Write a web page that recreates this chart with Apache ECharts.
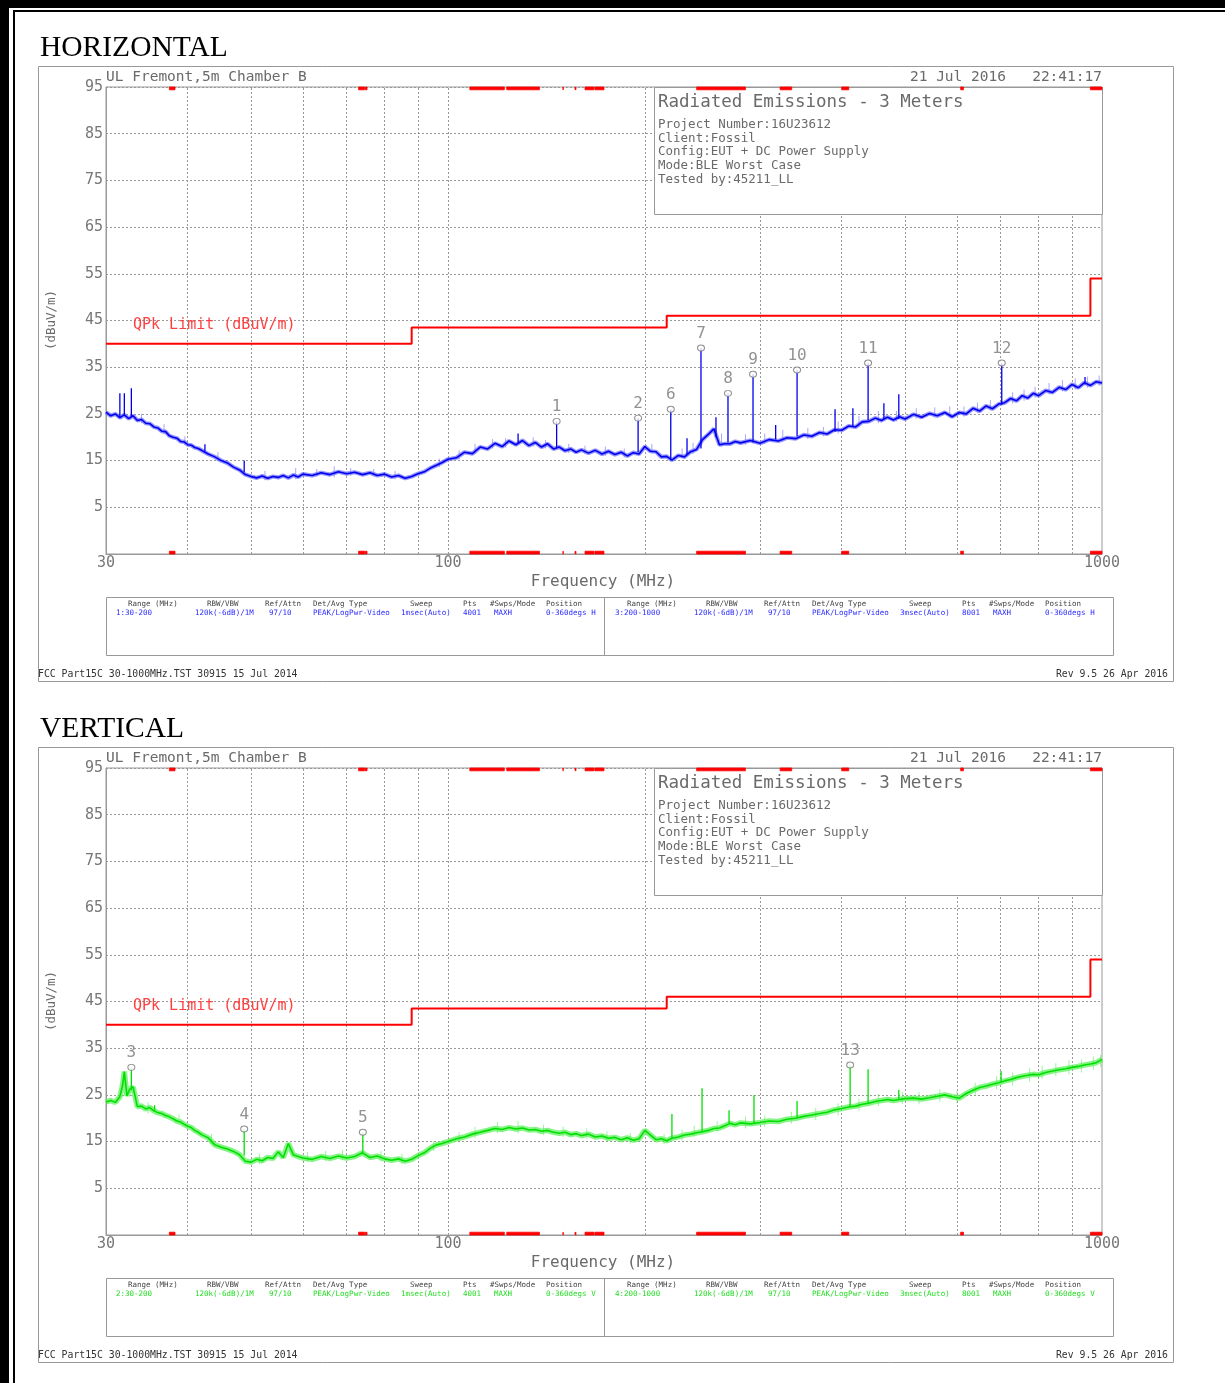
<!DOCTYPE html>
<html><head><meta charset="utf-8">
<script src="https://cdn.jsdelivr.net/npm/echarts@6/dist/echarts.min.js"></script>
<style>html,body{margin:0;padding:0;background:#fff}#c{width:1225px;height:1383px}</style>
</head><body><div id="c"></div>
<script>
// ---------- data ----------
const xLabelValues = [30, 100, 1000];
const gridFreqs = [40, 50, 60, 70, 80, 90, 100, 200, 300, 400, 500, 600, 700, 800, 900];
const qpkLimit = [[30,40],[88,40],[88,43.5],[216,43.5],[216,46],[960,46],[960,54],[1000,54]];
const restrictedBands = [[37.5,38.25],[73,74.6],[74.8,75.2],[108,121.94],[123,138],[149.9,150.05],[156.52475,156.52525],[156.7,156.9],[162.0125,167.17],[167.72,173.2],[240,285],[322,335.4],[399.9,410],[608,614],[960,1000]];

const hTrace = [[30,25.4],[30.5,24.6],[31,25.0],[31.5,24.2],[32,24.8],[32.5,24.0],[33,24.6],[33.5,23.6],[34,23.8],[34.5,23.0],[35,22.9],[35.5,22.2],[36,22.0],[36.5,21.3],[37,21.2],[37.5,20.3],[38,20.0],[38.5,19.8],[39,19.1],[39.5,19.0],[40,18.4],[40.5,18.3],[41,17.8],[41.5,17.6],[42,17.2],[43,16.4],[44,15.8],[45,15.0],[46,14.5],[47,13.6],[48,13.0],[49,12.0],[50,11.6],[51,11.3],[52,11.7],[53,11.2],[54,11.6],[55,11.4],[56,11.8],[57,11.3],[58,11.9],[59,11.5],[60,12.1],[62,11.8],[64,12.4],[66,12.0],[68,12.6],[70,12.2],[72,12.5],[74,12.0],[76,12.4],[78,11.8],[80,12.1],[82,11.5],[84,11.8],[86,11.2],[88,11.6],[90,12.2],[92,12.6],[94,13.4],[96,14.0],[98,14.6],[100,15.3],[103,15.6],[106,16.8],[109,16.5],[112,17.9],[115,17.5],[118,18.7],[121,18.0],[124,19.2],[127,18.4],[130,19.3],[133,18.2],[136,18.9],[139,17.9],[142,18.6],[145,17.5],[148,17.9],[151,17.1],[154,17.5],[157,16.8],[160,17.3],[164,16.6],[168,17.2],[172,16.4],[176,17.0],[180,16.3],[184,16.8],[188,16.0],[192,16.7],[196,16.4],[200,18.0],[204,17.0],[208,16.9],[212,15.8],[216,15.9],[220,15.1],[225,16.1],[230,15.8],[235,16.9],[240,17.4],[245,19.5],[250,20.6],[255,21.8],[260,18.4],[265,18.6],[270,18.6],[275,19.1],[280,18.8],[290,19.3],[300,18.7],[310,19.5],[320,19.2],[330,19.9],[340,19.7],[350,20.5],[360,20.2],[370,21.0],[380,20.7],[390,21.6],[400,21.5],[410,22.4],[420,22.2],[430,23.3],[440,23.4],[450,24.1],[460,23.6],[470,24.3],[480,23.7],[490,24.4],[500,23.9],[515,24.9],[530,24.3],[545,25.1],[560,24.6],[575,25.3],[590,24.4],[605,25.3],[620,25.0],[635,26.2],[650,25.6],[665,26.7],[680,26.1],[695,27.1],[710,27.4],[725,28.3],[740,27.8],[755,28.9],[770,28.4],[785,29.4],[800,28.9],[820,30.0],[840,29.6],[860,30.7],[880,30.2],[900,31.3],[920,30.6],[940,31.7],[960,31.1],[980,31.9],[1000,31.6]];
// noise extremes [freq, low, high]
const hNoise = [[34,23.0,25.0],[36.8,20.6,22.8],[39.6,18.4,20.2],[44.5,15.0,16.8],[52.5,10.8,12.8],[58.5,11.0,13.4],[63,11.6,13.2],[67,11.4,13.8],[71,11.8,13.4],[77,11.6,13.2],[83,11.0,12.8],[97,13.6,15.4],[104,15.2,17.2],[110,16.5,18.6],[117,17.6,19.6],[122.5,17.8,19.8],[135,18.0,20.0],[141,17.6,19.4],[153,16.6,18.6],[162,16.4,18.2],[174,16.0,18.0],[186,15.7,17.6],[205,16.6,18.6],[228,15.6,17.6],[237,16.4,18.8],[262,18.0,20.8],[285,18.4,20.6],[305,18.6,20.8],[325,19.0,21.6],[355,19.6,22.0],[375,20.2,22.2],[395,20.8,23.4],[425,22.2,24.6],[455,23.0,25.6],[485,23.4,25.6],[520,24.0,26.2],[555,24.2,26.4],[585,24.2,26.6],[615,24.4,26.6],[645,25.2,27.4],[675,25.8,28.0],[730,27.2,29.6],[760,27.8,30.2],[790,28.4,30.8],[830,29.2,31.6],[870,29.8,32.2],[910,30.2,32.6],[950,30.6,33.0],[990,31.0,33.2]];
// [freq, base, peak]
const hSpikes = [[31.5,24.2,29.4],[32.0,24.8,29.4],[32.8,24.4,30.5],[42.5,17.0,18.5],[48.8,12.5,15.0],[128,18.8,20.8],[146.6,17.8,23.4],[195.3,16.8,24.1],[219.1,15.4,26.0],[232,16.3,19.8],[243.7,17.6,39.1],[256.9,20.0,24.3],[268,18.9,29.4],[292.7,18.9,33.5],[317,19.5,22.6],[341.8,20.2,34.4],[390.7,21.2,26.0],[416,22.4,26.2],[438.9,23.6,35.9],[464,23.9,27.3],[489,23.9,29.2],[702.6,26.9,35.9],[942,31.3,32.9]];
const hMarkerNo = [1, 2, 6, 7, 8, 9, 10, 11, 12];
const hMarkerFreq = [146.6, 195.3, 219.1, 243.7, 268.0, 292.7, 341.8, 438.9, 702.6];
const hMarkerVal = [23.4, 24.1, 26.0, 39.1, 29.4, 33.5, 34.4, 35.9, 35.9];

const vTrace = [[30,23.5],[30.5,23.8],[31,23.4],[31.5,24.6],[31.8,27.0],[32,30.0],[32.3,24.8],[32.6,26.2],[33,26.7],[33.5,22.5],[34,22.6],[34.5,22.0],[35,22.3],[35.5,21.6],[36,21.2],[36.5,21.0],[37,20.6],[37.5,20.3],[38,19.9],[38.5,19.4],[39,19.2],[39.5,18.7],[40,18.3],[40.5,18.0],[41,17.4],[41.5,17.0],[42,16.5],[43,15.8],[44,14.3],[45,13.8],[46,13.4],[47,12.9],[48,12.2],[49,10.8],[50,10.6],[51,11.2],[52,10.9],[53,11.6],[54,11.4],[55,12.8],[56,11.6],[57,14.6],[57.5,13.4],[58,12.2],[59,11.8],[60,11.5],[62,11.2],[64,11.8],[66,11.4],[68,11.9],[70,11.5],[72,11.8],[74,12.6],[76,11.6],[78,11.9],[80,11.3],[82,11.0],[84,11.3],[86,10.8],[88,11.2],[90,12.0],[92,12.6],[94,13.6],[96,14.3],[98,14.6],[100,15.0],[103,15.6],[106,16.0],[109,16.6],[112,17.0],[115,17.4],[118,17.8],[121,17.6],[124,18.0],[127,17.7],[130,17.9],[133,17.5],[136,17.6],[139,17.2],[142,17.4],[145,17.0],[148,16.8],[151,17.0],[154,16.5],[157,16.7],[160,16.3],[164,16.6],[168,16.0],[172,16.2],[176,15.7],[180,15.9],[184,15.4],[188,15.8],[192,15.3],[196,15.6],[200,17.4],[204,16.4],[208,15.4],[212,15.6],[216,15.2],[220,15.7],[225,16.0],[230,16.4],[235,16.6],[240,16.9],[245,17.1],[250,17.4],[255,17.8],[260,17.9],[265,18.4],[270,18.9],[275,18.6],[280,19.0],[290,18.8],[300,19.1],[310,19.4],[320,19.3],[330,19.8],[340,20.0],[350,20.4],[360,20.7],[370,21.0],[380,21.3],[390,21.8],[400,22.1],[410,22.4],[420,22.6],[430,23.0],[440,23.2],[450,23.6],[460,23.8],[470,24.0],[480,23.8],[490,24.0],[500,24.2],[515,24.3],[530,24.1],[545,24.4],[560,24.7],[575,25.0],[590,24.6],[605,24.3],[620,25.3],[635,26.0],[650,26.6],[665,26.9],[680,27.3],[695,27.6],[710,28.0],[725,28.3],[740,28.7],[755,29.0],[770,29.2],[785,29.4],[800,29.3],[820,29.8],[840,30.1],[860,30.4],[880,30.6],[900,30.9],[920,31.1],[940,31.4],[960,31.6],[980,31.9],[1000,32.6]];
const vNoise = [[34.8,21.0,23.4],[38.8,18.6,20.8],[43.5,14.4,16.6],[51.5,10.2,12.4],[61,10.6,12.8],[65,10.8,13.0],[69,11.0,13.2],[79,10.8,13.0],[85,10.2,12.4],[95,13.0,15.0],[104,14.8,17.0],[110,15.8,18.2],[119,16.8,19.2],[128,16.8,19.4],[140,16.4,18.6],[150,16.0,18.2],[163,15.6,17.8],[175,15.0,17.2],[190,14.6,16.8],[214,14.4,16.6],[228,15.2,17.6],[238,16.0,18.4],[258,17.0,19.4],[285,17.8,20.4],[305,18.2,20.6],[335,18.8,21.4],[365,19.6,22.2],[395,20.6,23.2],[425,21.6,24.2],[455,22.6,25.2],[495,23.0,25.6],[525,23.0,25.6],[565,23.6,26.2],[600,23.2,25.8],[640,24.8,27.6],[690,26.2,29.0],[730,27.0,29.8],[775,27.8,30.8],[810,28.4,31.2],[850,29.0,31.8],[890,29.4,32.4],[930,29.8,32.6],[970,30.4,33.2],[995,31.0,33.6]];
const vSpikes = [[32.8,26.0,30.9],[35.6,21.6,22.8],[48.8,12.0,17.7],[74.1,12.3,17.0],[220,15.7,20.9],[244.6,17.0,26.4],[269,18.9,21.7],[293.7,19.0,24.9],[341.8,20.0,23.7],[412,22.4,31.4],[438.9,23.2,30.5],[489,24.0,26.1],[701,27.6,30.1]];
const vMarkerNo = [3, 4, 5, 13];
const vMarkerFreq = [32.8, 48.8, 74.1, 412];
const vMarkerVal = [30.9, 17.7, 17.0, 31.4];

// ---------- texts ----------
const siteName = 'UL Fremont,5m Chamber B';
const runDate = '21 Jul 2016   22:41:17';
const reportTitle = 'Radiated Emissions - 3 Meters';
const infoLines = ['Project Number:16U23612', 'Client:Fossil', 'Config:EUT + DC Power Supply', 'Mode:BLE Worst Case', 'Tested by:45211_LL'];
const yName = '(dBuV/m)';
const xName = 'Frequency (MHz)';
const limitName = 'QPk Limit (dBuV/m)';
const tableHeaders = ['Range (MHz)', 'RBW/VBW', 'Ref/Attn', 'Det/Avg Type', 'Sweep', 'Pts', '#Swps/Mode', 'Position'];
const hTableLeft = ['1:30-200', '120k(-6dB)/1M', '97/10', 'PEAK/LogPwr-Video', '1msec(Auto)', '4001', 'MAXH', '0-360degs H'];
const hTableRight = ['3:200-1000', '120k(-6dB)/1M', '97/10', 'PEAK/LogPwr-Video', '3msec(Auto)', '8001', 'MAXH', '0-360degs H'];
const vTableLeft = ['2:30-200', '120k(-6dB)/1M', '97/10', 'PEAK/LogPwr-Video', '1msec(Auto)', '4001', 'MAXH', '0-360degs V'];
const vTableRight = ['4:200-1000', '120k(-6dB)/1M', '97/10', 'PEAK/LogPwr-Video', '3msec(Auto)', '8001', 'MAXH', '0-360degs V'];
const footLeft = 'FCC Part15C 30-1000MHz.TST 30915 15 Jul 2014';
const footRight = 'Rev 9.5 26 Apr 2016';

// ---------- layout ----------
const MONO = '"DejaVu Sans Mono", monospace';
const DY = 681;
const headerX = [128, 207, 265, 313, 410, 463, 490, 546];
const valueX = [116, 195, 269, 313, 401, 463, 494, 546];

function txt(x, y, text, opt, extra) {
  return Object.assign({type: 'text', x: x, y: y, z: 6, silent: true,
    style: Object.assign({text: text, fontFamily: MONO, fontSize: 12, fill: '#6a6a6a', align: 'left', verticalAlign: 'middle'}, opt || {})}, extra || {});
}

function panelGraphics(dy, title, tl, tr, vc) {
  const g = [];
  g.push({type: 'rect', z: 1, silent: true, shape: {x: 38.5, y: 66.5 + dy, width: 1135, height: 615}, style: {fill: 'none', stroke: '#999', lineWidth: 1}});
  g.push(txt(40, 48 + dy, title, {fontFamily: '"Liberation Serif", "Times New Roman", serif', fontSize: 29.5, fill: '#000'}));
  g.push(txt(106, 77 + dy, siteName, {fontSize: 14.5}));
  g.push(txt(1102, 77 + dy, runDate, {fontSize: 14.5, align: 'right'}));
  g.push({type: 'rect', z: 3, silent: true, shape: {x: 654.5, y: 87.5 + dy, width: 448, height: 127}, style: {fill: '#fff', stroke: '#999', lineWidth: 1}});
  g.push(txt(658, 102 + dy, reportTitle, {fontSize: 17.5}));
  infoLines.forEach((s, i) => g.push(txt(658, 125 + 13.6 * i + dy, s, {fontSize: 12.5})));
  g.push(txt(52, 320 + dy, yName, {fontSize: 12.5, align: 'center'}, {rotation: Math.PI / 2}));
  g.push(txt(133, 325 + dy, limitName, {fontSize: 15, fill: '#ff4040'}));
  g.push(txt(603, 582 + dy, xName, {fontSize: 16, align: 'center'}));
  g.push({type: 'rect', z: 1, silent: true, shape: {x: 106.5, y: 597.5 + dy, width: 1007, height: 58}, style: {fill: 'none', stroke: '#999', lineWidth: 1}});
  g.push({type: 'line', z: 1, silent: true, shape: {x1: 604.5, y1: 597.5 + dy, x2: 604.5, y2: 655.5 + dy}, style: {stroke: '#999', lineWidth: 1}});
  [0, 499].forEach((off, half) => {
    const vals = half === 0 ? tl : tr;
    tableHeaders.forEach((h, i) => g.push(txt(headerX[i] + off, 604.5 + dy, h, {fontSize: 7.5, fill: '#444'})));
    vals.forEach((v, i) => g.push(txt(valueX[i] + off, 613.5 + dy, v, {fontSize: 7.5, fill: vc})));
  });
  g.push(txt(38, 674 + dy, footLeft, {fontSize: 9.8, fill: '#333'}));
  g.push(txt(1168, 674 + dy, footRight, {fontSize: 9.8, fill: '#333', align: 'right'}));
  return g;
}

const pageBorder = [
  {type: 'rect', z: 10, silent: true, shape: {x: 0, y: 0, width: 9, height: 1383}, style: {fill: '#000'}},
  {type: 'rect', z: 10, silent: true, shape: {x: 0, y: 0, width: 1225, height: 8}, style: {fill: '#000'}},
  {type: 'rect', z: 10, silent: true, shape: {x: 13, y: 10, width: 2, height: 1373}, style: {fill: '#000'}},
  {type: 'rect', z: 10, silent: true, shape: {x: 13, y: 10, width: 1212, height: 2}, style: {fill: '#000'}}
];

function axesFor(i) {
  return {
    x: {type: 'log', logBase: 10, gridIndex: i, min: 30, max: 1000,
      axisLine: {show: true, onZero: false, lineStyle: {color: '#999', width: 1}},
      axisTick: {show: false}, splitLine: {show: false},
      axisLabel: {customValues: xLabelValues, fontSize: 15, color: '#777', fontFamily: MONO, margin: 2,
        formatter: v => String(Math.round(v))}},
    y: {type: 'value', gridIndex: i, min: -5, max: 95, interval: 10,
      axisLine: {show: true, onZero: false, lineStyle: {color: '#999', width: 1}},
      axisTick: {show: false},
      axisLabel: {fontSize: 15, color: '#777', fontFamily: MONO, margin: 3, formatter: v => (v === -5 ? '' : String(v))},
      splitLine: {show: true, lineStyle: {color: '#999', width: 1, type: [2, 2]}}}
  };
}

function segs(list) {
  const out = [];
  list.forEach(s => { out.push([s[0], s[1]], [s[0], s[2]], [s[0], '-']); });
  return out;
}

function seriesFor(i, trace, noise, spikes, mNo, mF, mV, core, fringe, fringeW) {
  const markers = mNo.map((n, k) => [mF[k], mV[k], n]);
  const top = restrictedBands.map(b => [{xAxis: b[0], yAxis: 94.4}, {xAxis: b[1], yAxis: 95}]);
  const bot = restrictedBands.map(b => [{xAxis: b[0], yAxis: -5}, {xAxis: b[1], yAxis: -4.4}]);
  return [
    {type: 'line', xAxisIndex: i, yAxisIndex: i, z: 1, data: [[30, -10]], showSymbol: false, silent: true,
      lineStyle: {opacity: 0},
      markLine: {z: 1, silent: true, symbol: 'none', label: {show: false}, animation: false,
        lineStyle: {color: '#999', width: 1, type: [2, 2]},
        emphasis: {disabled: true},
        data: gridFreqs.map(f => ({xAxis: f}))}},
    {type: 'line', xAxisIndex: i, yAxisIndex: i, z: 2, data: trace, showSymbol: false, silent: true,
      lineStyle: {color: fringe, width: fringeW, opacity: 0.7}},
    {type: 'line', xAxisIndex: i, yAxisIndex: i, z: 2, data: segs(noise), showSymbol: false, silent: true,
      connectNulls: false, lineStyle: {color: fringe, width: 1, opacity: 0.6}},
    {type: 'line', xAxisIndex: i, yAxisIndex: i, z: 2, data: trace, showSymbol: false, silent: true,
      lineStyle: {color: core, width: 1.6}},
    {type: 'line', xAxisIndex: i, yAxisIndex: i, z: 2, data: segs(spikes), showSymbol: false, silent: true,
      connectNulls: false, lineStyle: {color: core, width: 1.3}},
    {type: 'line', xAxisIndex: i, yAxisIndex: i, z: 4, data: qpkLimit, showSymbol: false, silent: true,
      lineStyle: {color: '#ff0000', width: 2}},
    {type: 'scatter', xAxisIndex: i, yAxisIndex: i, z: 5, data: markers, symbol: 'circle', symbolSize: [7, 6],
      silent: true, itemStyle: {color: '#fff', borderColor: '#777', borderWidth: 1},
      label: {show: true, position: 'top', distance: 3, formatter: p => String(p.data[2]),
        fontSize: 16, color: '#777', fontFamily: MONO}},
    {type: 'line', xAxisIndex: i, yAxisIndex: i, z: 8, data: [[30, -10]], showSymbol: false, silent: true,
      lineStyle: {opacity: 0},
      markArea: {z: 9, silent: true, itemStyle: {color: '#ff0000', borderColor: '#ff0000', borderWidth: 0.8},
        data: top.concat(bot)}}
  ];
}

const a0 = axesFor(0), a1 = axesFor(1);
const option = {
  animation: false,
  backgroundColor: '#fff',
  grid: [
    {left: 106, top: 87, width: 996, height: 467, show: true, borderColor: '#999', borderWidth: 1, backgroundColor: 'transparent'},
    {left: 106, top: 768, width: 996, height: 467, show: true, borderColor: '#999', borderWidth: 1, backgroundColor: 'transparent'}
  ],
  xAxis: [a0.x, a1.x],
  yAxis: [a0.y, a1.y],
  series: seriesFor(0, hTrace, hNoise, hSpikes, hMarkerNo, hMarkerFreq, hMarkerVal, '#0000ee', '#6a6aff', 4.2)
    .concat(seriesFor(1, vTrace, vNoise, vSpikes, vMarkerNo, vMarkerFreq, vMarkerVal, '#00e000', '#55f055', 5.5)),
  graphic: pageBorder.concat(panelGraphics(0, 'HORIZONTAL', hTableLeft, hTableRight, '#2a2aff'))
    .concat(panelGraphics(DY, 'VERTICAL', vTableLeft, vTableRight, '#22dd22'))
};
const chart = echarts.init(document.getElementById('c'), null, {renderer: 'canvas'});
chart.setOption(option);
</script></body></html>
